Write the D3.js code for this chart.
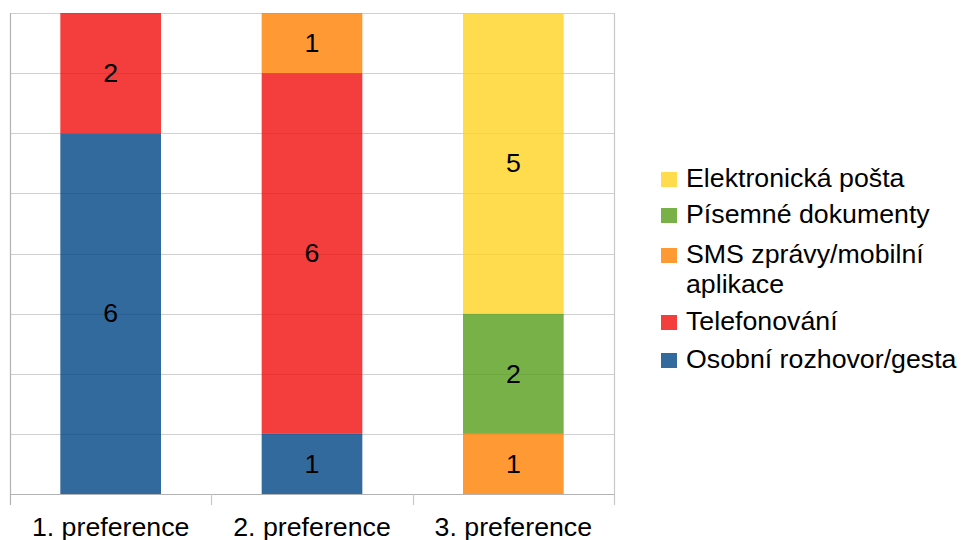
<!DOCTYPE html>
<html>
<head>
<meta charset="utf-8">
<script src="https://cdn.jsdelivr.net/npm/d3@7"></script>
<style>
  body { margin: 0; background: #fff; }
  text { font-family: "Liberation Sans", Arial, sans-serif; }
</style>
</head>
<body>
<script>
var categories = ['1. preference', '2. preference', '3. preference'];
var seriesNames = ['Osobní rozhovor/gesta', 'Telefonování', 'SMS zprávy/mobilní aplikace', 'Písemné dokumenty', 'Elektronická pošta'];
var osobni = [6, 1, 0];
var telefon = [2, 6, 0];
var sms = [0, 1, 1];
var pisemne = [0, 0, 2];
var posta = [0, 0, 5];
var yTicks = [0, 1, 2, 3, 4, 5, 6, 7, 8];
var colors = ['#004586', '#f10d0c', '#ff8000', '#579d1c', '#ffd320'];

var allSeries = [osobni, telefon, sms, pisemne, posta];

var rows = categories.map(function(c, i) {
    var r = { cat: c };
    seriesNames.forEach(function(s, j) { r[s] = allSeries[j][i]; });
    return r;
});

var stacked = d3.stack().keys(seriesNames)(rows);

var width = 962, height = 540;
var plotLeft = 10, plotRight = 614, plotTop = 13, plotBottom = 494;
var stretch = 1.07; // text in the reference is a bit wider than Liberation Sans

var svg = d3.select('body')
    .append('svg')
    .attr('width', width)
    .attr('height', height);

var x = d3.scaleBand()
    .domain(categories)
    .range([plotLeft, plotRight])
    .paddingInner(0.5)
    .paddingOuter(0.25);

var y = d3.scaleLinear()
    .domain([0, 8])
    .range([plotBottom, plotTop]);

// gridlines
svg.append('g')
    .selectAll('line')
    .data(yTicks)
    .enter()
    .append('line')
    .attr('x1', plotLeft)
    .attr('x2', plotRight)
    .attr('y1', d => Math.round(y(d)) + 0.5)
    .attr('y2', d => Math.round(y(d)) + 0.5)
    .attr('stroke', d => d == 0 ? '#b3b3b3' : '#d0d0d0')
    .attr('stroke-width', 1.2);

// category ticks / side lines
var tickX = [plotLeft].concat(categories.map(c => x(c) + x.bandwidth() + x.step() * 0.25));
svg.append('g')
    .selectAll('line')
    .data(tickX)
    .enter()
    .append('line')
    .attr('x1', d => Math.round(d) + 0.5)
    .attr('x2', d => Math.round(d) + 0.5)
    .attr('y1', (d, i) => (i == 0 || i == tickX.length - 1) ? plotTop : plotBottom)
    .attr('y2', plotBottom + 11)
    .attr('stroke', (d, i) => i == 0 ? '#b3b3b3' : '#c8c8c8')
    .attr('stroke-width', 1.2);

// bars
var layer = svg.append('g')
    .selectAll('g')
    .data(stacked)
    .enter()
    .append('g');

layer.selectAll('rect')
    .data(d => d.filter(p => p[1] - p[0] > 0))
    .enter()
    .append('rect')
    .attr('x', d => x(d.data.cat))
    .attr('width', x.bandwidth())
    .attr('y', d => y(d[1]))
    .attr('height', d => y(d[0]) - y(d[1]))
    .attr('fill', function() { return colors[seriesNames.indexOf(d3.select(this.parentNode).datum().key)]; })
    .attr('fill-opacity', 0.8);

layer.selectAll('text')
    .data(d => d.filter(p => p[1] - p[0] > 0))
    .enter()
    .append('text')
    .text(d => d[1] - d[0])
    .attr('transform', d => `translate(${x(d.data.cat) + x.bandwidth() / 2},${y((d[0] + d[1]) / 2)}) scale(${stretch},1)`)
    .attr('dy', '0.35em')
    .attr('text-anchor', 'middle')
    .attr('fill', '#000')
    .attr('font-size', '25px');

// x labels
svg.append('g')
    .selectAll('text')
    .data(categories)
    .enter()
    .append('text')
    .text(d => d)
    .attr('transform', d => `translate(${x(d) + x.bandwidth() / 2},536) scale(${stretch},1)`)
    .attr('text-anchor', 'middle')
    .attr('font-size', '25px');

// legend (top entry = last series)
var legendItems = [
    { lines: ['Elektronická pošta'], color: colors[4], y: 187 },
    { lines: ['Písemné dokumenty'], color: colors[3], y: 223 },
    { lines: ['SMS zprávy/mobilní', 'aplikace'], color: colors[2], y: 263 },
    { lines: ['Telefonování'], color: colors[1], y: 330 },
    { lines: ['Osobní rozhovor/gesta'], color: colors[0], y: 368 }
];

var lg = svg.append('g')
    .selectAll('g')
    .data(legendItems)
    .enter()
    .append('g')
    .attr('transform', d => `translate(661,${d.y})`);

lg.append('rect')
    .attr('x', 0)
    .attr('y', -15)
    .attr('width', 16)
    .attr('height', 15)
    .attr('fill', d => d.color)
    .attr('fill-opacity', 0.8);

lg.append('text')
    .attr('transform', `translate(25,0) scale(${stretch},1)`)
    .attr('font-size', '25px')
    .selectAll('tspan')
    .data(d => d.lines)
    .enter()
    .append('tspan')
    .attr('x', 0)
    .attr('y', (d, i) => i * 30)
    .text(d => d);
</script>
</body>
</html>
